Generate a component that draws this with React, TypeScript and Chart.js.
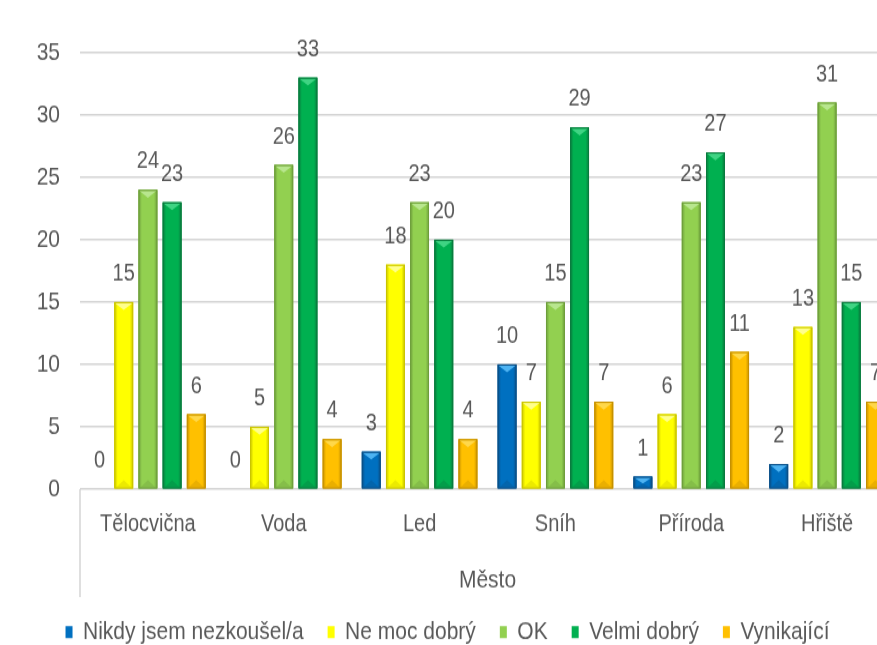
import React, { useEffect, useRef } from "react";
import { Chart, registerables } from "chart.js";

Chart.register(...registerables);

// ---- data ----
const categories = ["Tělocvična", "Voda", "Led", "Sníh", "Příroda", "Hřiště"];
const seriesNames = ["Nikdy jsem nezkoušel/a", "Ne moc dobrý", "OK", "Velmi dobrý", "Vynikající"];
const nikdy = [0, 0, 3, 10, 1, 2];
const neMocDobry = [15, 5, 18, 7, 6, 13];
const okValues = [24, 26, 23, 15, 23, 31];
const velmiDobry = [23, 33, 20, 29, 27, 15];
const vynikajici = [6, 4, 4, 7, 11, 7];
const yMin = 0;
const yMax = 35;
const yStep = 5;
const axisTitle = "Město";

// ---- styles ----
const baseColors = ["#0070C0", "#FFFF00", "#92D050", "#00B050", "#FFC000"];
const lightColors = ["#4DB3F2", "#FFFF8C", "#B8E68E", "#3FD483", "#FFD84A"];
const darkColors = ["#0B4F86", "#C9C400", "#6E9E3C", "#0A7A3E", "#C48F00"];
const FONT = "'Liberation Sans', Arial, sans-serif";
const TEXT = "#595959";
const GRID = "#d4d4d4";

// canvas is drawn at a reduced internal height and stretched vertically (tall, condensed-looking text)
const VIEW_W = 877;
const VIEW_H = 645;
const CANVAS_W = 910;
const CANVAS_H = 538;
const S = VIEW_H / CANVAS_H;

const seriesValues = [nikdy, neMocDobry, okValues, velmiDobry, vynikajici];

const barPlugin = {
  id: "bevelBars",
  afterDatasetsDraw(chart: any) {
    const ctx = chart.ctx;
    const area = chart.chartArea;
    ctx.save();
    ctx.beginPath();
    ctx.rect(area.left, area.top - 5, area.right - area.left, area.bottom - area.top + 5);
    ctx.clip();
    chart.data.datasets.forEach((ds: any, di: number) => {
      const meta = chart.getDatasetMeta(di);
      if (meta.hidden) return;
      meta.data.forEach((el: any) => {
        const p = el.getProps(["x", "y", "base", "width"], true);
        const left = p.x - p.width / 2;
        const right = p.x + p.width / 2;
        const top = Math.min(p.y, p.base);
        const bottom = Math.max(p.y, p.base);
        const h = bottom - top;
        if (h < 0.5) return;
        const g = ctx.createLinearGradient(left, 0, right, 0);
        g.addColorStop(0, darkColors[di]);
        g.addColorStop(0.18, baseColors[di]);
        g.addColorStop(0.82, baseColors[di]);
        g.addColorStop(1, darkColors[di]);
        ctx.fillStyle = g;
        ctx.fillRect(left, top, p.width, h);
        const d = Math.min(p.width * 0.35, h * 0.6);
        ctx.fillStyle = lightColors[di];
        ctx.beginPath();
        ctx.moveTo(left + 1, top + 1);
        ctx.lineTo(right - 1, top + 1);
        ctx.lineTo(p.x, top + d);
        ctx.closePath();
        ctx.fill();
        ctx.globalAlpha = 0.35;
        ctx.fillStyle = darkColors[di];
        ctx.beginPath();
        ctx.moveTo(left + 1, bottom);
        ctx.lineTo(right - 1, bottom);
        ctx.lineTo(p.x, bottom - Math.min(d, h * 0.4));
        ctx.closePath();
        ctx.fill();
        ctx.globalAlpha = 1;
        ctx.strokeStyle = darkColors[di];
        ctx.lineWidth = 1;
        ctx.strokeRect(left + 0.5, top + 0.5, p.width - 1, h - 0.5);
      });
    });
    ctx.restore();

    // value labels
    ctx.save();
    ctx.font = "20px " + FONT;
    ctx.fillStyle = TEXT;
    ctx.textAlign = "center";
    ctx.textBaseline = "middle";
    chart.data.datasets.forEach((ds: any, di: number) => {
      const meta = chart.getDatasetMeta(di);
      if (meta.hidden) return;
      meta.data.forEach((el: any, i: number) => {
        const p = el.getProps(["x", "y", "base"], true);
        const top = Math.min(p.y, p.base);
        ctx.fillText(String(ds.data[i]), p.x, top - 23.5);
      });
    });
    ctx.restore();
  },
  afterDraw(chart: any) {
    const ctx = chart.ctx;
    const area = chart.chartArea;
    ctx.save();
    ctx.strokeStyle = GRID;
    ctx.lineWidth = 1.5;
    ctx.beginPath();
    ctx.moveTo(area.left, area.bottom);
    ctx.lineTo(area.left, 597 / S);
    ctx.stroke();
    ctx.restore();
  },
};

export default function App() {
  const ref = useRef<HTMLCanvasElement | null>(null);

  useEffect(() => {
    if (!ref.current) return;
    const chart = new Chart(ref.current, {
      type: "bar",
      data: {
        labels: categories,
        datasets: seriesNames.map((name, i) => ({
          label: name,
          data: seriesValues[i],
          backgroundColor: baseColors[i],
          borderColor: darkColors[i],
          borderWidth: 0,
          barPercentage: 0.78,
          categoryPercentage: 0.89,
        })),
      },
      options: {
        animation: false,
        responsive: false,
        devicePixelRatio: 1,
        layout: { padding: { left: 0, right: 15, top: 43.9, bottom: -9.7 } },
        plugins: {
          tooltip: { enabled: false },
          legend: {
            position: "bottom",
            labels: {
              boxWidth: 7,
              boxHeight: 10,
              padding: 24,
              color: TEXT,
              font: { family: FONT, size: 21 },
            },
          },
        },
        scales: {
          x: {
            grid: { display: false, drawTicks: false },
            border: { display: false },
            ticks: {
              color: TEXT,
              font: { family: FONT, size: 20 },
              padding: 17.2,
              maxRotation: 0,
            },
            title: {
              display: true,
              text: axisTitle,
              color: TEXT,
              font: { family: FONT, size: 21 },
              padding: { top: 0, bottom: -3.7 },
            },
            afterFit: (scale: any) => {
              scale.height = 84.8;
            },
          },
          y: {
            min: yMin,
            max: yMax,
            grid: { color: GRID, lineWidth: 1.5, drawTicks: false },
            border: { display: false },
            ticks: {
              stepSize: yStep,
              color: TEXT,
              font: { family: FONT, size: 21 },
              padding: 20,
            },
            afterFit: (scale: any) => {
              scale.width = 80;
            },
          },
        },
      },
      plugins: [barPlugin],
    });
    return () => chart.destroy();
  }, []);

  return (
    <div
      style={{
        position: "fixed",
        left: 0,
        top: 0,
        width: VIEW_W,
        height: VIEW_H,
        overflow: "hidden",
        background: "#ffffff",
      }}
    >
      <canvas
        ref={ref}
        width={CANVAS_W}
        height={CANVAS_H}
        style={{ width: CANVAS_W + "px", height: VIEW_H + "px", display: "block" }}
      />
    </div>
  );
}
